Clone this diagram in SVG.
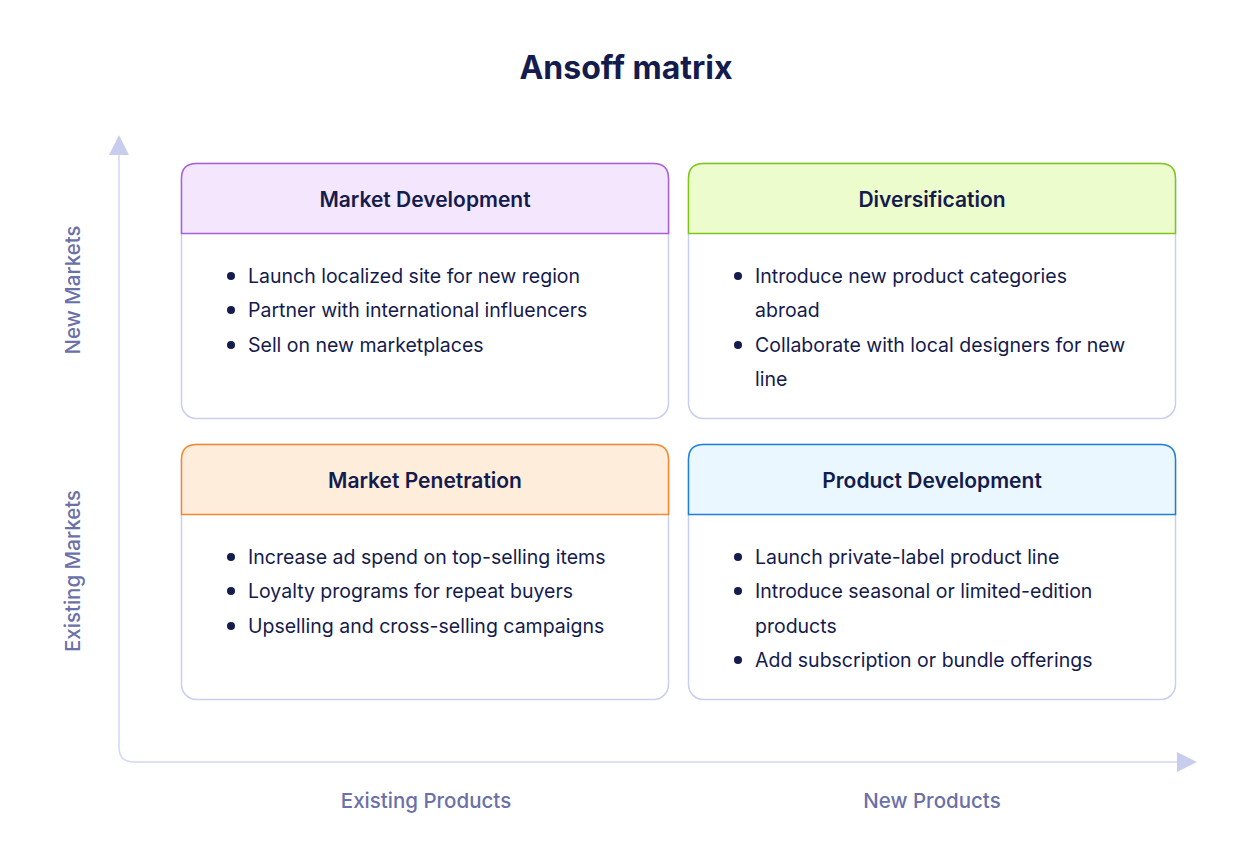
<svg xmlns="http://www.w3.org/2000/svg" width="1252" height="858" viewBox="0 0 1252 858">
<style>
text{font-family:Inter,"Noto Sans",sans-serif;fill:#141b4d}
.t{font-size:32px;font-weight:700}
.h{font-size:21px;font-weight:600;text-anchor:middle}
.b{font-size:19.5px}
.ax{font-size:20.5px;font-weight:500;fill:#6a70a8}
.body{fill:#fff;stroke:#c9cff0;stroke-width:1.5}
.dot{fill:#141b4d}
</style>
<rect width="1252" height="858" fill="#fff"/>
<text class="t" x="626" y="79" text-anchor="middle">Ansoff matrix</text>
<g id="axes">
<path d="M119 152 V747 Q119 762 134 762 H1180" fill="none" stroke="#d3d8f3" stroke-width="1.5"/>
<polygon points="119,135 109,155 129,155" fill="#c8cdee"/>
<polygon points="1197,762 1177,752 1177,772" fill="#c8cdee"/>
</g>
<text class="ax" transform="translate(80 290) rotate(-90)" text-anchor="middle">New Markets</text>
<text class="ax" transform="translate(80 571) rotate(-90)" text-anchor="middle">Existing Markets</text>
<text class="ax" x="426" y="808" text-anchor="middle">Existing Products</text>
<text class="ax" x="932" y="808" text-anchor="middle">New Products</text>
<g id="market-development">
<rect class="body" x="181.5" y="163.5" width="487" height="255" rx="15"/>
<path d="M181.5 233.5 V178.5 Q181.5 163.5 196.5 163.5 H653.5 Q668.5 163.5 668.5 178.5 V233.5 Z" fill="#f4e7fd" stroke="#a75fdc" stroke-width="1.5"/>
<text class="h" x="425" y="207">Market Development</text>
<circle class="dot" cx="231" cy="276" r="4"/><text class="b" x="248" y="283">Launch localized site for new region</text>
<circle class="dot" cx="231" cy="310" r="4"/><text class="b" x="248" y="317">Partner with international influencers</text>
<circle class="dot" cx="231" cy="345" r="4"/><text class="b" x="248" y="352">Sell on new marketplaces</text>
</g>
<g id="diversification">
<rect class="body" x="688.5" y="163.5" width="487" height="255" rx="15"/>
<path d="M688.5 233.5 V178.5 Q688.5 163.5 703.5 163.5 H1160.5 Q1175.5 163.5 1175.5 178.5 V233.5 Z" fill="#edfccc" stroke="#7fc31c" stroke-width="1.5"/>
<text class="h" x="932" y="207">Diversification</text>
<circle class="dot" cx="738" cy="276" r="4"/><text class="b" x="755" y="283">Introduce new product categories</text>
<text class="b" x="755" y="317">abroad</text>
<circle class="dot" cx="738" cy="345" r="4"/><text class="b" x="755" y="352">Collaborate with local designers for new</text>
<text class="b" x="755" y="386">line</text>
</g>
<g id="market-penetration">
<rect class="body" x="181.5" y="444.5" width="487" height="255" rx="15"/>
<path d="M181.5 514.5 V459.5 Q181.5 444.5 196.5 444.5 H653.5 Q668.5 444.5 668.5 459.5 V514.5 Z" fill="#ffeddc" stroke="#f4882e" stroke-width="1.5"/>
<text class="h" x="425" y="488">Market Penetration</text>
<circle class="dot" cx="231" cy="557" r="4"/><text class="b" x="248" y="564">Increase ad spend on top-selling items</text>
<circle class="dot" cx="231" cy="591" r="4"/><text class="b" x="248" y="598">Loyalty programs for repeat buyers</text>
<circle class="dot" cx="231" cy="626" r="4"/><text class="b" x="248" y="633">Upselling and cross-selling campaigns</text>
</g>
<g id="product-development">
<rect class="body" x="688.5" y="444.5" width="487" height="255" rx="15"/>
<path d="M688.5 514.5 V459.5 Q688.5 444.5 703.5 444.5 H1160.5 Q1175.5 444.5 1175.5 459.5 V514.5 Z" fill="#ebf7fe" stroke="#1f80d8" stroke-width="1.5"/>
<text class="h" x="932" y="488">Product Development</text>
<circle class="dot" cx="738" cy="557" r="4"/><text class="b" x="755" y="564">Launch private-label product line</text>
<circle class="dot" cx="738" cy="591" r="4"/><text class="b" x="755" y="598">Introduce seasonal or limited-edition</text>
<text class="b" x="755" y="633">products</text>
<circle class="dot" cx="738" cy="660" r="4"/><text class="b" x="755" y="667">Add subscription or bundle offerings</text>
</g>
</svg>
